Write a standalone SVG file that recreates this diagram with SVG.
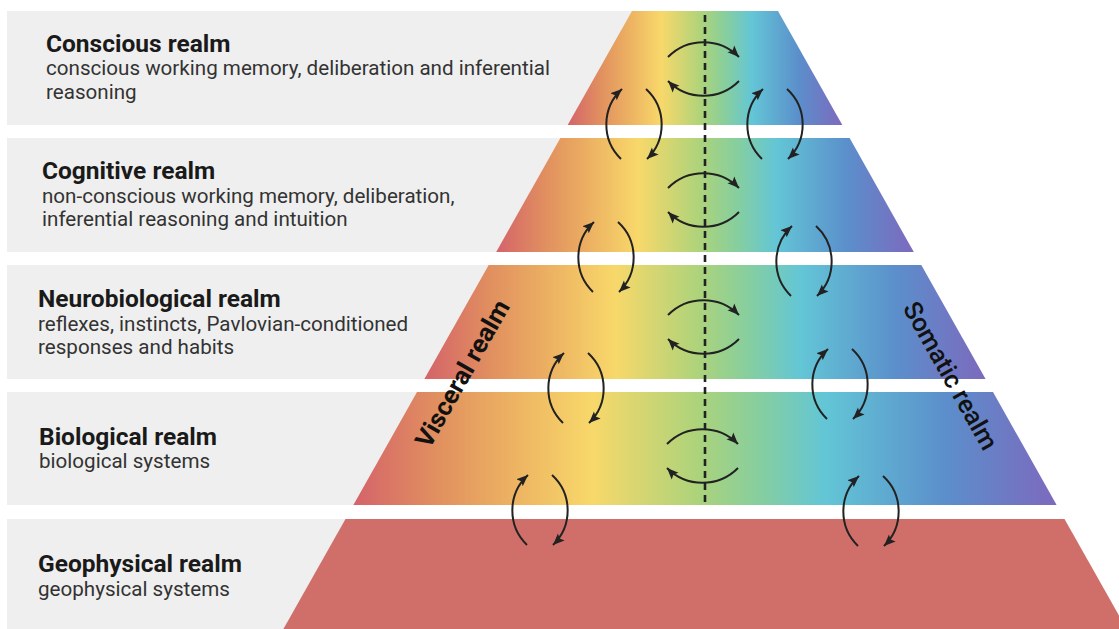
<svg xmlns="http://www.w3.org/2000/svg" width="1119" height="629" viewBox="0 0 1119 629">
<style>
.band{fill:#efefef}
.title{font-family:Roboto,"Liberation Sans",sans-serif;font-weight:bold;font-size:24.5px;fill:#1a1a1a}
.sub{font-family:Roboto,"Liberation Sans",sans-serif;font-size:20.6px;fill:#333}
.arc{fill:none;stroke:#222;stroke-width:2;marker-end:url(#ah)}
.side{font-family:Roboto,"Liberation Sans",sans-serif;font-size:25.5px;fill:#111}
</style>
<defs>
<linearGradient id="rb" x1="0" y1="0" x2="1" y2="0">
<stop offset="0" stop-color="#d4636a"/>
<stop offset="0.12" stop-color="#e1905f"/>
<stop offset="0.22" stop-color="#ecb062"/>
<stop offset="0.34" stop-color="#f8d86a"/>
<stop offset="0.49" stop-color="#acd37b"/>
<stop offset="0.58" stop-color="#85cea0"/>
<stop offset="0.67" stop-color="#63c6d6"/>
<stop offset="0.84" stop-color="#5b8fcb"/>
<stop offset="1" stop-color="#7d69bd"/>
</linearGradient>
<marker id="ah" viewBox="0 0 10 10" refX="10" refY="5" markerWidth="11.5" markerHeight="11.5" markerUnits="userSpaceOnUse" orient="auto">
<path d="M0,0.8 L10,5 L0,9.2 L2,5 z" fill="#222"/>
</marker>
</defs>

<g id="conscious">
<rect class="band" x="7" y="11" width="700" height="114"/>
<polygon points="632,11 778,11 842.3,125 567.7,125" fill="url(#rb)"/>
<text class="title" x="46" y="52">Conscious realm</text>
<text class="sub" x="46" y="75">conscious working memory, deliberation and inferential</text>
<text class="sub" x="46" y="99">reasoning</text>
</g>

<g id="cognitive">
<rect class="band" x="7" y="138" width="700" height="114"/>
<polygon points="560.4,138 849.6,138 913.8,252 496.2,252" fill="url(#rb)"/>
<text class="title" x="42" y="179">Cognitive realm</text>
<text class="sub" x="42" y="203">non-conscious working memory, deliberation,</text>
<text class="sub" x="42" y="226">inferential reasoning and intuition</text>
</g>

<g id="neurobiological">
<rect class="band" x="7" y="265" width="700" height="114"/>
<polygon points="488.7,265 921.3,265 985.6,379 424.4,379" fill="url(#rb)"/>
<text class="title" x="38" y="307">Neurobiological realm</text>
<text class="sub" x="38" y="331">reflexes, instincts, Pavlovian-conditioned</text>
<text class="sub" x="38" y="354">responses and habits</text>
</g>

<g id="biological">
<rect class="band" x="7" y="392" width="700" height="113"/>
<polygon points="417,392 993,392 1056.6,505 353.4,505" fill="url(#rb)"/>
<text class="title" x="39" y="445">Biological realm</text>
<text class="sub" x="39" y="468">biological systems</text>
</g>

<g id="geophysical">
<rect class="band" x="7" y="519" width="700" height="110"/>
<polygon points="345.5,519 1064.5,519 1126.6,629 283.4,629" fill="#d06f6a"/>
<text class="title" x="38" y="572">Geophysical realm</text>
<text class="sub" x="38" y="596">geophysical systems</text>
</g>

<g id="visceral">
<text class="side" font-weight="bold" text-anchor="middle" transform="translate(470,378) rotate(-60.5)">Visceral realm</text>
</g>
<g id="somatic">
<text class="side" font-weight="500" text-anchor="middle" transform="translate(943,380) rotate(60.5)">Somatic realm</text>
</g>

<g id="connectors">
<line x1="705" y1="15" x2="705" y2="507" stroke="#222" stroke-width="2.6" stroke-dasharray="7,5"/>
<path class="arc" d="M668,57 A50 50 0 0 1 739,57"/>
<path class="arc" d="M739,81 A50 50 0 0 1 668,81"/>
<path class="arc" d="M668,188 A50 50 0 0 1 739,188"/>
<path class="arc" d="M739,212 A50 50 0 0 1 668,212"/>
<path class="arc" d="M668,315 A50 50 0 0 1 739,315"/>
<path class="arc" d="M739,339 A50 50 0 0 1 668,339"/>
<path class="arc" d="M667,444 A50 50 0 0 1 738,444"/>
<path class="arc" d="M738,468 A50 50 0 0 1 667,468"/>
<path class="arc" d="M621,159 A48 48 0 0 1 622,89"/>
<path class="arc" d="M646,89 A48 48 0 0 1 647,159"/>
<path class="arc" d="M593,292 A48 48 0 0 1 594,222"/>
<path class="arc" d="M618,222 A48 48 0 0 1 619,292"/>
<path class="arc" d="M563,423 A48 48 0 0 1 564,353"/>
<path class="arc" d="M588,353 A48 48 0 0 1 589,423"/>
<path class="arc" d="M527,545 A48 48 0 0 1 528,475"/>
<path class="arc" d="M552,475 A48 48 0 0 1 553,545"/>
<path class="arc" d="M762,159 A48 48 0 0 1 763,89"/>
<path class="arc" d="M787,89 A48 48 0 0 1 788,159"/>
<path class="arc" d="M791,296 A48 48 0 0 1 792,226"/>
<path class="arc" d="M816,226 A48 48 0 0 1 817,296"/>
<path class="arc" d="M827,419 A48 48 0 0 1 828,349"/>
<path class="arc" d="M852,349 A48 48 0 0 1 853,419"/>
<path class="arc" d="M858,546 A48 48 0 0 1 859,476"/>
<path class="arc" d="M883,476 A48 48 0 0 1 884,546"/>
</g>
</svg>
